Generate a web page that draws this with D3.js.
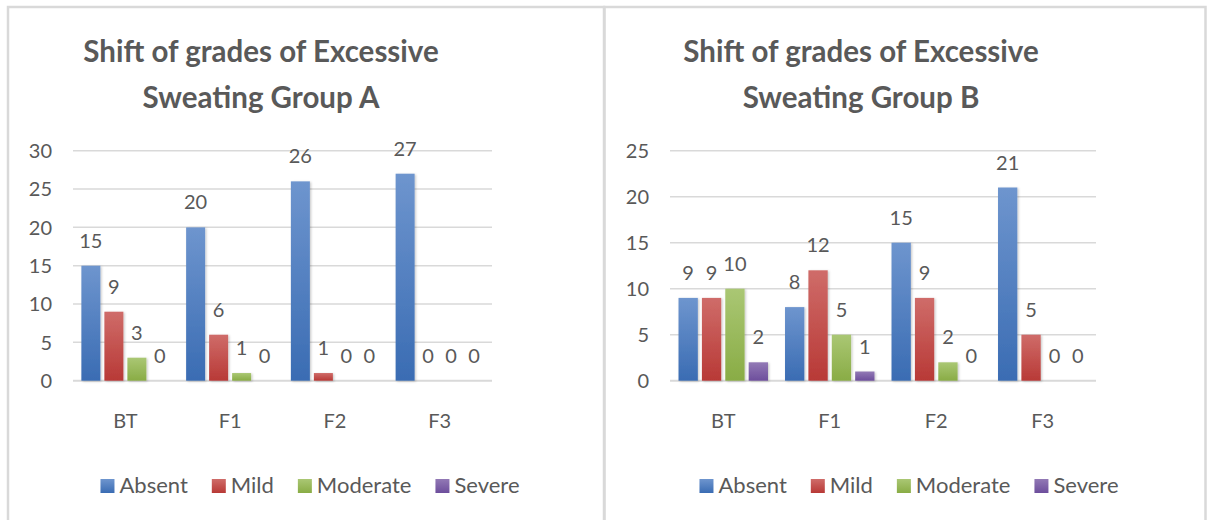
<!DOCTYPE html>
<html>
<head>
<meta charset="utf-8">
<script src="https://cdn.jsdelivr.net/npm/d3@7"></script>
<style>
  body { margin: 0; background: #fff; }
  svg text { font-family: Lato, Calibri, "Noto Sans", sans-serif; fill: #595959; }
</style>
</head>
<body>
<div id="chart"></div>
<script>
// categories and series
var categories = ["BT", "F1", "F2", "F3"];
var seriesNames = ["Absent", "Mild", "Moderate", "Severe"];

// Group A values, one array per series
var groupA_absent = [15, 20, 26, 27];
var groupA_mild = [9, 6, 1, 0];
var groupA_moderate = [3, 1, 0, 0];
var groupA_severe = [0, 0, 0, 0];

// Group B values
var groupB_absent = [9, 8, 15, 21];
var groupB_mild = [9, 12, 9, 5];
var groupB_moderate = [10, 5, 2, 0];
var groupB_severe = [2, 1, 0, 0];

// tick labels
var yTicksA = [0, 5, 10, 15, 20, 25, 30];
var yTicksB = [0, 5, 10, 15, 20, 25];

var titleA = ["Shift of grades of Excessive", "Sweating Group A"];
var titleB = ["Shift of grades of Excessive", "Sweating Group B"];

var width = 1208,
  height = 520;

// gradient stops, top -> bottom
var colors = [
  ["#6e95ce", "#3a6cb3"],
  ["#cf6c69", "#b83936"],
  ["#aac774", "#89ac45"],
  ["#9279b5", "#6d4e9c"]
];

var svg = d3.select("#chart").append("svg")
  .attr("width", width)
  .attr("height", height);

var defs = svg.append("defs");

colors.forEach(function(c, i) {
  var grad = defs.append("linearGradient")
    .attr("id", "grad" + i)
    .attr("x1", 0).attr("y1", 0)
    .attr("x2", 0).attr("y2", 1);
  grad.append("stop").attr("offset", "0%").attr("stop-color", c[0]);
  grad.append("stop").attr("offset", "100%").attr("stop-color", c[1]);
});

defs.append("filter")
  .attr("id", "shadow")
  .attr("x", "-20%").attr("y", "-10%")
  .attr("width", "150%").attr("height", "130%")
  .append("feDropShadow")
  .attr("dx", 1.2).attr("dy", 0.8)
  .attr("stdDeviation", 1)
  .attr("flood-color", "#000")
  .attr("flood-opacity", 0.22);

//Panel borders
svg.append("rect")
  .attr("x", 8).attr("y", 7)
  .attr("width", 596).attr("height", 560)
  .attr("fill", "none")
  .attr("stroke", "#d9d9d9")
  .attr("stroke-width", 2.5);

svg.append("rect")
  .attr("x", 604.5).attr("y", 7)
  .attr("width", 601).attr("height", 560)
  .attr("fill", "none")
  .attr("stroke", "#d9d9d9")
  .attr("stroke-width", 2.5);

drawPanel({
  left: 7,
  gridLeft: 73, gridRight: 492,
  titleX: 261,
  legendCenter: 310,
  title: titleA,
  ticks: yTicksA,
  series: [groupA_absent, groupA_mild, groupA_moderate, groupA_severe]
});

drawPanel({
  left: 604,
  gridLeft: 670, gridRight: 1096,
  titleX: 861,
  legendCenter: 909,
  title: titleB,
  ticks: yTicksB,
  series: [groupB_absent, groupB_mild, groupB_moderate, groupB_severe]
});

function drawPanel(p) {
  var g = svg.append("g");
  var yTop = 150.7, yBottom = 380.7;

  //Title
  g.append("text")
    .attr("x", p.titleX)
    .attr("text-anchor", "middle")
    .style("font-weight", "bold")
    .style("font-size", "29.5px")
    .selectAll("tspan")
    .data(p.title)
    .enter().append("tspan")
    .attr("x", p.titleX)
    .attr("y", function(d, i) { return 62 + i * 46; })
    .text(function(d) { return d; });

  //Scales
  var y = d3.scaleLinear()
    .domain([0, d3.max(p.ticks)])
    .range([yBottom, yTop]);

  var x0 = d3.scaleBand()
    .domain(categories)
    .range([p.gridLeft, p.gridRight])
    .padding(0);

  var groupW = x0.bandwidth() * 88 / 104.75;
  var x1 = d3.scaleBand()
    .domain(seriesNames)
    .range([(x0.bandwidth() - groupW) / 2, (x0.bandwidth() + groupW) / 2])
    .paddingInner(4 / 23)
    .paddingOuter(0);

  //Gridlines
  g.selectAll("line.grid")
    .data(p.ticks)
    .enter().append("line")
    .attr("class", "grid")
    .attr("x1", p.gridLeft).attr("x2", p.gridRight)
    .attr("y1", function(d) { return y(d); })
    .attr("y2", function(d) { return y(d); })
    .attr("stroke", "#d9d9d9")
    .attr("stroke-width", function(d) { return d === 0 ? 2 : 1.5; });

  //Y tick labels
  g.selectAll("text.ytick")
    .data(p.ticks)
    .enter().append("text")
    .attr("class", "ytick")
    .attr("x", p.gridLeft - 21)
    .attr("y", function(d) { return y(d); })
    .attr("dy", "0.36em")
    .attr("text-anchor", "end")
    .style("font-size", "20px")
    .text(function(d) { return d; });

  //Category labels
  g.selectAll("text.cat")
    .data(categories)
    .enter().append("text")
    .attr("class", "cat")
    .attr("x", function(d) { return x0(d) + x0.bandwidth() / 2; })
    .attr("y", 428)
    .attr("text-anchor", "middle")
    .style("font-size", "20px")
    .text(function(d) { return d; });

  //Bars
  var flat = [];
  p.series.forEach(function(vals, si) {
    vals.forEach(function(v, ci) {
      flat.push({ s: si, c: categories[ci], v: v });
    });
  });

  g.selectAll("rect.bar")
    .data(flat.filter(function(d) { return d.v > 0; }))
    .enter().append("rect")
    .attr("class", "bar")
    .attr("x", function(d) { return x0(d.c) + x1(seriesNames[d.s]); })
    .attr("y", function(d) { return y(d.v); })
    .attr("width", x1.bandwidth())
    .attr("height", function(d) { return y(0) - y(d.v); })
    .attr("fill", function(d) { return "url(#grad" + d.s + ")"; })
    .attr("filter", "url(#shadow)");

  //Data labels
  g.selectAll("text.val")
    .data(flat)
    .enter().append("text")
    .attr("class", "val")
    .attr("x", function(d) { return x0(d.c) + x1(seriesNames[d.s]) + x1.bandwidth() / 2; })
    .attr("y", function(d) { return y(d.v) - 18; })
    .attr("text-anchor", "middle")
    .style("font-size", "20px")
    .text(function(d) { return d.v; });

  //Legend
  var legend = g.append("g");
  var items = legend.selectAll("g.item")
    .data(seriesNames)
    .enter().append("g")
    .attr("class", "item");

  items.append("rect")
    .attr("width", 14).attr("height", 14)
    .attr("y", 479)
    .attr("fill", function(d, i) { return "url(#grad" + i + ")"; });

  items.append("text")
    .attr("x", 19)
    .attr("y", 493)
    .style("font-size", "22px")
    .text(function(d) { return d; });

  var pos = 0, offsets = [];
  items.each(function() {
    offsets.push(pos);
    pos += 19 + d3.select(this).select("text").node().getComputedTextLength() + 24;
  });
  var total = pos - 24;
  var start = p.legendCenter - total / 2;
  items.attr("transform", function(d, i) { return "translate(" + (start + offsets[i]) + ",0)"; });
}
</script>
</body>
</html>
